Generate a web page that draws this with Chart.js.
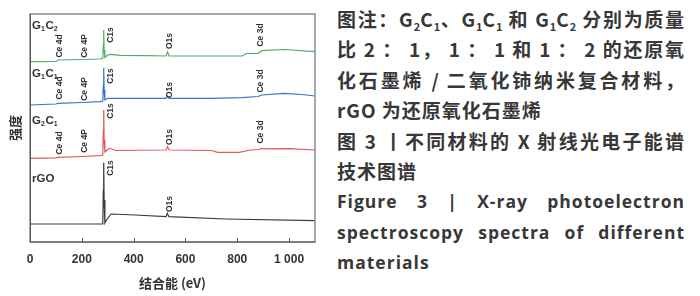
<!DOCTYPE html>
<html>
<head>
<meta charset="utf-8">
<script src="https://cdn.jsdelivr.net/npm/chart.js@4.4.1/dist/chart.umd.min.js"></script>
<style>
  html, body { margin: 0; padding: 0; background: #fff; }
  #wrap { position: relative; width: 700px; height: 296px; overflow: hidden; }
  #chartBox { position: absolute; left: 0; top: 0; width: 320px; height: 296px; }
  #caption { position: absolute; left: 337px; top: 4px; width: 348px; color: #383838; }
  #caption div { height: 30.4px; line-height: 30.4px; white-space: nowrap; overflow: visible; }
  #caption .zh { font-family: "Noto Sans CJK SC", sans-serif; font-weight: 700; font-size: 19px; letter-spacing: 1px; }
  #caption .en { font-family: "Open Sans", sans-serif; font-weight: 700; font-size: 17.5px; letter-spacing: 1px; }
  #caption .j { text-align: justify; text-align-last: justify; white-space: normal; }
  #caption .s { font-size: 11px; vertical-align: -4px; letter-spacing: 0; }
</style>
</head>
<body>
<div id="wrap">
  <div id="chartBox"><canvas id="myChart" width="320" height="296"></canvas></div>
  <div id="caption">
    <div class="zh j">图注：G<span class="s">2</span>C<span class="s">1</span>、G<span class="s">1</span>C<span class="s">1</span> 和 G<span class="s">1</span>C<span class="s">2</span> 分别为质量</div>
    <div class="zh j">比 2 ： 1， 1 ： 1 和 1 ： 2 的还原氧</div>
    <div class="zh j">化石墨烯 / 二氧化铈纳米复合材料，</div>
    <div class="zh">rGO 为还原氧化石墨烯</div>
    <div class="zh j">图 3 丨不同材料的 X 射线光电子能谱</div>
    <div class="zh">技术图谱</div>
    <div class="en j">Figure 3 | X-ray photoelectron</div>
    <div class="en j">spectroscopy spectra of different</div>
    <div class="en">materials</div>
  </div>
</div>
<script>
// binding energy (eV) vs intensity (a.u., stacked with offsets as in the figure)
const energyTicks = [0, 200, 400, 600, 800, 1000];

const g1c2 = [[0,180.3],[100,180.5],[108,182],[200,182.5],[270,183],[281,184],[283,197],[284.5,212],[286,192],[289,184.5],
  [300,187],[310,187.7],[350,186.7],[450,186.3],[525,186],[531,190],[537,186],[700,186],[820,186],[835,188.5],
  [880,188.7],[895,191.3],[980,192.5],[1100,190.3]];
const g1c1 = [[0,137],[100,138],[108,138.7],[200,139.5],[270,140.3],[281,141],[283,157],[284.5,174],[286,152],[289,142],
  [300,143.7],[400,143.7],[525,143.7],[531,146],[537,143.7],[700,143.7],[820,144.3],[880,145.5],[895,147],
  [980,148.7],[1050,147.5],[1100,146]];
const g2c1 = [[0,83.7],[100,84.2],[108,84.7],[200,85.5],[270,86.3],[281,87],[283,112],[284.5,132],[286,102],[289,90],
  [300,92.5],[310,93.7],[330,91.5],[525,92],[531,95.3],[537,92],[700,91.5],[724,89.7],[808,89.7],[850,92],
  [885,92.5],[891,93.7],[900,93.2],[1000,93.3],[1100,92]];
const rgo = [[0,18],[278,18],[281,19],[283,52],[284.5,79.3],[286,42],[289,19],[295,22],[313,28],[406,27],
  [525,25.3],[530,28.7],[536,25.3],[755,23],[1100,21.3]];

const seriesColors = ["#4fae6a", "#3a74c6", "#e2575c", "#3a3a3a"];
const seriesNames = [["G","1","C","2"], ["G","1","C","1"], ["G","2","C","1"], ["rGO"]];
const nameY = [217, 169, 122, 64];

// peak annotations: energy where the text sits, and its height for each spectrum
const peakNames = ["Ce 4d", "Ce 4P", "C1s", "O1s", "Ce 3d"];
const peakEnergy = [115, 212, 313, 538, 891];
const peakY = [
  [196, 196, 207, 201, 207],
  [154, 153, 166, 152, 161],
  [99, 101, 131, 105, 110],
  [null, null, 74, 38, null],
];

const toXY = (arr) => arr.map(([x, y]) => ({ x, y }));
const allSeries = [g1c2, g1c1, g2c1, rgo];

const datasets = allSeries.map((s, i) => ({
  data: toXY(s),
  showLine: true,
  borderColor: seriesColors[i],
  borderWidth: 1.2,
  pointRadius: 0,
  tension: 0,
}));

const annotations = {
  id: "annotations",
  afterDatasetsDraw(chart) {
    const { ctx, chartArea: { left, right, top, bottom }, scales: { x, y } } = chart;
    ctx.save();
    // frame
    ctx.strokeStyle = "#8c8c8c";
    ctx.lineWidth = 1.5;
    ctx.strokeRect(left, top, right - left, bottom - top);
    ctx.strokeStyle = "#555";
    ctx.lineWidth = 1;
    ctx.beginPath();
    ctx.moveTo(left + 0.5, top);
    ctx.lineTo(left + 0.5, bottom);
    ctx.lineTo(right, bottom);
    ctx.stroke();
    // inward ticks on the energy axis
    energyTicks.forEach((v) => {
      const px = Math.round(x.getPixelForValue(v)) + 0.5;
      ctx.beginPath();
      ctx.moveTo(px, bottom);
      ctx.lineTo(px, bottom - 4);
      ctx.stroke();
    });
    // peak labels
    ctx.fillStyle = "#333";
    ctx.font = "bold 8.5px 'Liberation Sans'";
    ctx.textAlign = "center";
    ctx.textBaseline = "middle";
    peakY.forEach((row) => {
      row.forEach((val, k) => {
        if (val === null) return;
        ctx.save();
        ctx.translate(x.getPixelForValue(peakEnergy[k]), y.getPixelForValue(val));
        ctx.rotate(-Math.PI / 2);
        ctx.fillText(peakNames[k], 0, 0);
        ctx.restore();
      });
    });
    // spectrum names with subscripts
    ctx.textAlign = "left";
    ctx.textBaseline = "alphabetic";
    seriesNames.forEach((parts, i) => {
      let px = x.getPixelForValue(8);
      const py = y.getPixelForValue(nameY[i]) + 4;
      parts.forEach((p, k) => {
        const sub = parts.length > 1 && k % 2 === 1;
        ctx.font = sub ? "bold 7px 'Liberation Sans'" : "bold 11.5px 'Liberation Sans'";
        ctx.fillText(p, px, sub ? py + 2 : py);
        px += ctx.measureText(p).width + (sub ? 0.5 : 0);
      });
    });
    ctx.restore();
  },
};

new Chart(document.getElementById("myChart").getContext("2d"), {
  type: "scatter",
  data: { datasets },
  options: {
    responsive: false,
    animation: false,
    layout: { padding: { top: 14, right: 5 } },
    plugins: { legend: { display: false }, tooltip: { enabled: false } },
    scales: {
      x: {
        type: "linear",
        min: 0,
        max: 1100,
        afterBuildTicks: (scale) => { scale.ticks = energyTicks.map((v) => ({ value: v })); },
        afterFit: (scale) => { scale.height = 54; },
        grid: { display: false, drawTicks: false },
        border: { display: false },
        ticks: {
          padding: 10,
          color: "#333",
          font: { family: "Liberation Sans", size: 12, weight: "bold" },
          maxRotation: 0,
          callback: (v) => (v === 1000 ? "1 000" : v),
        },
        title: {
          display: true,
          text: "结合能 (eV)",
          color: "#333",
          font: { family: "Noto Sans CJK SC", size: 13, weight: "bold" },
          padding: { top: 0, bottom: 5 },
        },
      },
      y: {
        min: 0,
        max: 228,
        afterFit: (scale) => { scale.width = 30; },
        grid: { display: false, drawTicks: false },
        border: { display: false },
        ticks: { display: false },
        title: {
          display: true,
          text: "强度",
          color: "#333",
          font: { family: "Noto Sans CJK SC", size: 13, weight: "bold" },
          padding: { top: 7, bottom: 0 },
        },
      },
    },
  },
  plugins: [annotations],
});
</script>
</body>
</html>
